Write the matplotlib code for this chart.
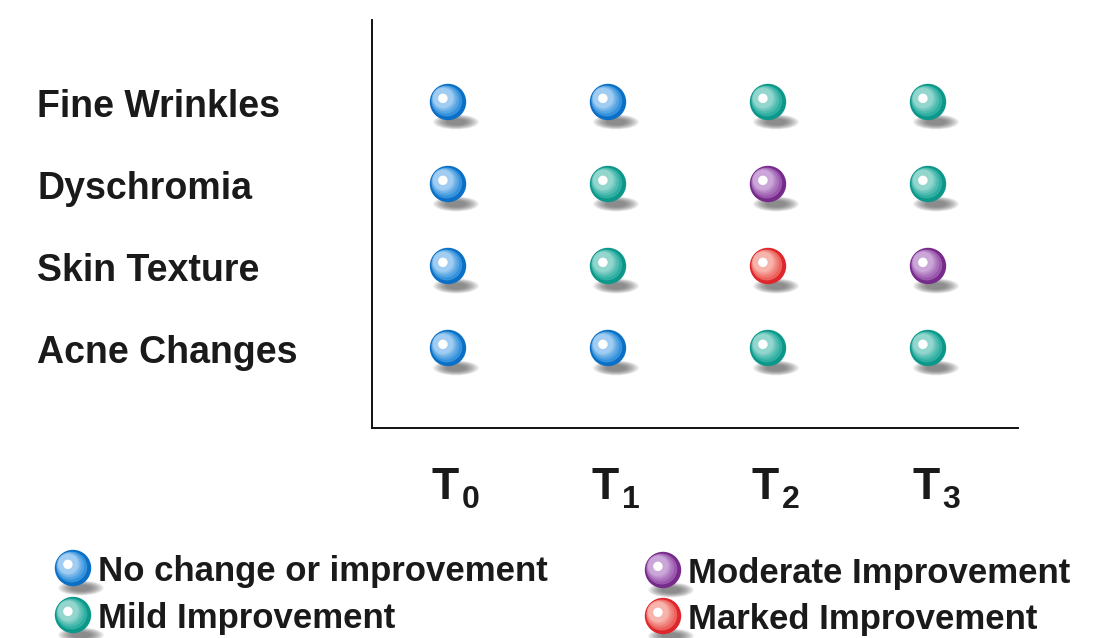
import matplotlib.pyplot as plt
import matplotlib.transforms as mtransforms
from matplotlib.patches import Circle, Ellipse
import numpy as np
from matplotlib.colors import to_rgb

plt.rcParams['font.family'] = ['Liberation Sans', 'DejaVu Sans']

# data
rows = ['Fine Wrinkles', 'Dyschromia', 'Skin Texture', 'Acne Changes']
times = ['0', '1', '2', '3']
# 0 = no change, 1 = mild, 2 = moderate, 3 = marked
scores = [
    [0, 0, 1, 1],
    [0, 1, 2, 1],
    [0, 1, 3, 2],
    [0, 0, 1, 1],
]
legend_labels = ['No change or improvement', 'Mild Improvement',
                 'Moderate Improvement', 'Marked Improvement']

# dark rim, mid, light
palette = {
    0: ('#0b6fc6', '#3592dc', '#a0cdf1'),
    1: ('#0d978a', '#2eafa2', '#93d6ce'),
    2: ('#762a8a', '#9a58ad', '#cba6d8'),
    3: ('#de262c', '#ec625c', '#f7b4ac'),
}

fig = plt.figure(figsize=(10.93, 6.38), dpi=100)
W, H = 1093, 638
ax = fig.add_axes([372 / W, 1 - 428 / H, (1018 - 372) / W, (428 - 20) / H])
ax.set_xlim(-0.475, 3.5625)
ax.set_ylim(-0.976, 4.0)
for s in ['top', 'right']:
    ax.spines[s].set_visible(False)
for s in ['left', 'bottom']:
    ax.spines[s].set_linewidth(1.4)
    ax.spines[s].set_color('#111111')
ax.set_xticks([])
ax.set_yticks([])


def mix(c1, c2, t):
    a = np.array(to_rgb(c1))
    b = np.array(to_rgb(c2))
    return tuple(a + (b - a) * t)


def sphere(trans, level, r=0.182, zorder=5):
    dark, mid, light = palette[level]
    # soft shadow under the ball
    for i in range(16):
        t = i / 15
        ax.add_patch(Ellipse((0.08, -0.2), 0.46 * (1 - 0.6 * t), 0.15 * (1 - 0.6 * t),
                             facecolor='#5a5a5a', alpha=0.065, edgecolor='none',
                             transform=trans, zorder=zorder - 1, clip_on=False))
    ax.add_patch(Circle((0, 0), r, facecolor=dark, edgecolor='none',
                        transform=trans, zorder=zorder, clip_on=False))
    # banded shading toward upper-left
    steps = [(0.85, 0.07, 0.0), (0.76, 0.15, 0.3), (0.68, 0.21, 0.55),
             (0.61, 0.25, 0.8), (0.55, 0.28, 1.0)]
    for k, (f, off, t) in enumerate(steps):
        ax.add_patch(Circle((-off * r * 0.95, off * r * 0.8), f * r,
                            facecolor=mix(mid, light, t), edgecolor='none',
                            transform=trans, zorder=zorder + 0.1 * (k + 1),
                            clip_on=False))
    ax.add_patch(Circle((-0.28 * r, 0.2 * r), 0.26 * r, facecolor='white',
                        edgecolor='none', transform=trans, zorder=zorder + 0.9,
                        clip_on=False))


lab_tr = mtransforms.blended_transform_factory(fig.transFigure, ax.transData)
for ri, name in enumerate(rows):
    yv = 3 - ri
    for ci in range(len(times)):
        tr = fig.dpi_scale_trans + mtransforms.ScaledTranslation(ci, yv, ax.transData)
        sphere(tr, scores[ri][ci])
    ax.annotate(name, xy=(37 / W, yv), xycoords=lab_tr, xytext=(0, -15),
                textcoords='offset pixels', ha='left', va='baseline',
                fontsize=27, fontweight='bold', color='#1a1a1a', annotation_clip=False)

for ci, t in enumerate(times):
    ax.annotate('T', xy=(ci, -0.976), xycoords='data', xytext=(-16, -71),
                textcoords='offset pixels', ha='left', va='baseline',
                fontsize=32, fontweight='bold', color='#1a1a1a', annotation_clip=False)
    ax.annotate(t, xy=(ci, -0.976), xycoords='data', xytext=(14, -80),
                textcoords='offset pixels', ha='left', va='baseline',
                fontsize=23, fontweight='bold', color='#1a1a1a', annotation_clip=False)

# legend
leg_pos = [(73, 568), (73, 615), (663, 570), (663, 616)]
for lvl, (lab, (px, py)) in enumerate(zip(legend_labels, leg_pos)):
    tr = fig.dpi_scale_trans + mtransforms.ScaledTranslation(px / W, 1 - py / H, fig.transFigure)
    sphere(tr, lvl)
    fig.text((px + 25) / W, 1 - (py + 13) / H, lab, ha='left', va='baseline',
             fontsize=25, fontweight='bold', color='#1a1a1a')

fig.savefig('out.png', dpi=100)
